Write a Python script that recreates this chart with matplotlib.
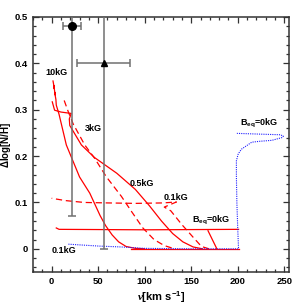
import numpy as np
import matplotlib
matplotlib.use("Agg")
import matplotlib.pyplot as plt
from matplotlib.ticker import MultipleLocator, FixedLocator

# ---- data ----
# 10kG solid track (v, dlogN)
v_10kG = [1.5, 3.0, 2.4, 3.8, 3.2, 4.6, 5.0, 8.0, 15.8, 30.0, 41.0, 52.0, 58.0, 65.0, 72.0, 80.0, 90.0, 100.0]
n_10kG = [0.362, 0.345, 0.352, 0.332, 0.338, 0.322, 0.310, 0.290, 0.224, 0.155, 0.120, 0.072, 0.050, 0.030, 0.015, 0.005, 0.001, 0.0]

# 3kG / 0.5kG solid track with hook
v_solid_mid = [0.7, 3.2, 10.0, 21.0, 19.0, 19.5, 32.0, 46.0, 70.0, 90.0, 105.0, 118.0, 130.0, 141.0, 152.0, 162.0]
n_solid_mid = [0.317, 0.299, 0.295, 0.292, 0.280, 0.266, 0.224, 0.197, 0.163, 0.128, 0.093, 0.060, 0.033, 0.015, 0.004, 0.0]

# dashed track from the 3kG region
v_dash_mid = [13.5, 18.0, 23.0, 35.6, 46.3, 58.9, 75.0, 86.0, 98.0, 110.0, 121.0, 132.0]
n_dash_mid = [0.320, 0.295, 0.270, 0.224, 0.195, 0.155, 0.113, 0.080, 0.045, 0.020, 0.007, 0.0]

# 0.1kG dashed track
v_dash_low = [169.0, 161.0, 152.0, 140.0, 128.0, 121.0, 134.0, 120.0, 90.0, 60.0, 35.0, 15.0, 0.0]
n_dash_low = [0.0, 0.005, 0.025, 0.052, 0.082, 0.090, 0.101, 0.099, 0.098, 0.099, 0.100, 0.104, 0.109]

# Beq=0kG solid pieces
v_flat = [5.0, 8.0, 100.0, 200.8]
n_flat = [0.045, 0.042, 0.041, 0.042]
v_slant = [168.0, 177.5]
n_slant = [0.039, 0.0]
v_zero = [85.0, 200.8]
n_zero = [0.0, 0.0]

# blue dotted track
v_blue = [18.0, 50.0, 75.0, 100.0, 150.0, 200.8, 200.0, 199.0, 198.5, 198.5, 200.5, 204.0, 215.0, 224.0, 236.7, 247.5, 249.0, 245.7, 229.5, 199.0]
n_blue = [0.010, 0.006, 0.004, 0.001, 0.0, 0.0, 0.040, 0.100, 0.155, 0.190, 0.205, 0.215, 0.230, 0.232, 0.234, 0.240, 0.243, 0.246, 0.247, 0.249]

# observed points
obs_v = [21.5, 56.0]
obs_n = [0.48, 0.40]
obs_verr_lo = [9.7, 28.5]
obs_verr_hi = [9.7, 28.5]
obs_nerr_lo = [0.41, 0.40]
obs_nerr_hi = [0.10, 0.15]
obs_marker = ["o", "^"]

labels = ["10kG", "3kG", "0.5kG", "0.1kG", r"B$_{\rm eq}$=0kG", "0.1kG", r"B$_{\rm eq}$=0kG"]
label_v = [5.0, 45.0, 97.0, 134.0, 171.0, 13.5, 223.0]
label_n = [0.380, 0.260, 0.141, 0.110, 0.063, -0.004, 0.272]

plt.rcParams['font.family'] = ['Liberation Sans', 'DejaVu Sans']
plt.rcParams['mathtext.fontset'] = 'custom'
plt.rcParams['mathtext.it'] = 'Liberation Serif:italic:bold'
plt.rcParams['mathtext.rm'] = 'Liberation Sans:bold'

fig = plt.figure(figsize=(3.05, 3.05), dpi=100)
ax = fig.add_axes([33 / 305, 33 / 305, 256 / 305, 255 / 305])

red = "#ff0000"
ax.plot(v_10kG, n_10kG, color=red, lw=0.9)
ax.plot(v_solid_mid, n_solid_mid, color=red, lw=0.9)
ax.plot(v_dash_mid, n_dash_mid, color=red, lw=0.9, dashes=(5, 3))
ax.plot(v_dash_low, n_dash_low, color=red, lw=0.9, dashes=(5, 3))
ax.plot(v_flat, n_flat, color=red, lw=0.9)
ax.plot(v_slant, n_slant, color=red, lw=0.9)
ax.plot(v_zero, n_zero, color=red, lw=0.9)
ax.plot(v_blue, n_blue, color="#2020ff", lw=0.8, linestyle=(0, (1, 1)))

for i in range(len(obs_v)):
    ax.errorbar([obs_v[i]], [obs_n[i]],
                xerr=[[obs_verr_lo[i]], [obs_verr_hi[i]]],
                yerr=[[obs_nerr_lo[i]], [obs_nerr_hi[i]]],
                fmt=obs_marker[i], color="black", ecolor="#707070",
                elinewidth=1.1, capsize=2.8, capthick=1.1,
                markersize=5.5 if obs_marker[i] == "o" else 4.5, zorder=5)

for txt, x, y in zip(labels, label_v, label_n):
    ax.text(x, y, txt, fontsize=6.5, fontweight="bold", ha="center", va="center")

ax.set_xlim(-20, 255)
ax.set_ylim(-0.05, 0.5)
ax.xaxis.set_major_locator(FixedLocator([0, 50, 100, 150, 200, 250]))
ax.xaxis.set_minor_locator(MultipleLocator(10))
ax.yaxis.set_major_locator(FixedLocator([0, 0.1, 0.2, 0.3, 0.4, 0.5]))
ax.yaxis.set_minor_locator(MultipleLocator(0.02))
ax.set_yticklabels(["0", "0.1", "0.2", "0.3", "0.4", "0.5"])
ax.set_xticklabels(["0", "50", "100", "150", "200", "250"])
ax.tick_params(which="both", direction="in", top=True, right=True,
               colors="#333333", labelcolor="black", labelsize=6.8, width=0.9)
ax.tick_params(which="major", length=4.3, pad=3.5)
ax.tick_params(which="minor", length=2.2)
for lab in ax.get_xticklabels() + ax.get_yticklabels():
    lab.set_fontweight("bold")
for sp in ax.spines.values():
    sp.set_linewidth(1.1)
    sp.set_color("#333333")

ax.set_xlabel(r"$v$[km s$^{-1}$]", fontsize=8, fontweight="bold")
ax.set_ylabel(r"$\Delta$log[N/H]", fontsize=7, fontweight="bold")
ax.xaxis.set_label_coords(0.5, -0.07)
ax.yaxis.set_label_coords(-0.078, 0.5)

fig.savefig("out.png", dpi=100)
